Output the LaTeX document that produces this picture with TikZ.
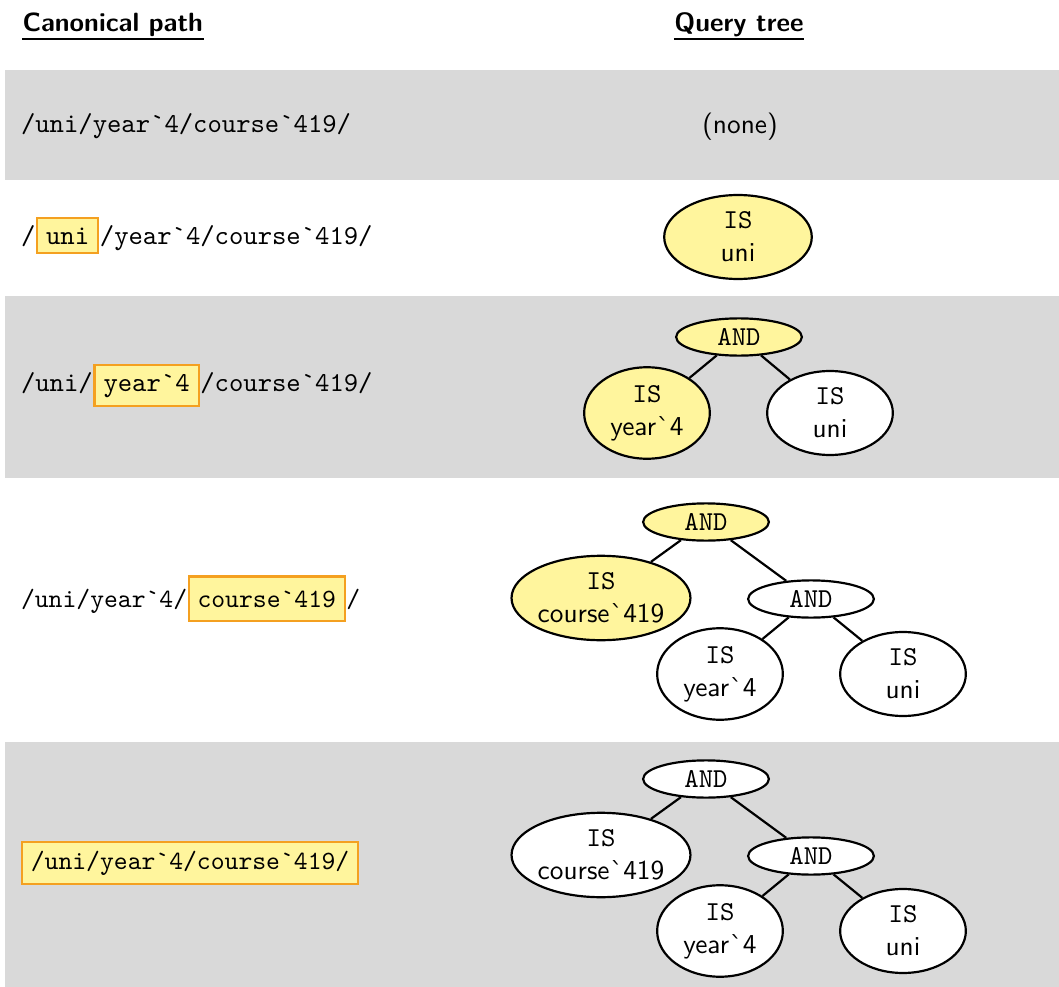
\documentclass[tikz,border=0pt]{standalone}
\usepackage{fontspec}
\usepackage{tikz}
\usetikzlibrary{shapes.geometric,positioning}
\definecolor{Band}{HTML}{D9D9D9}
\definecolor{Mark}{HTML}{FFF59D}
\definecolor{MarkEdge}{HTML}{F4A020}
\newcommand{\bq}{\textasciigrave}

\begin{document}
\begin{tikzpicture}[x=0.3659pt,y=-0.3659pt,
    band/.style={fill=Band},
    head/.style={font=\sffamily\bfseries,inner sep=0pt,scale=0.965},
    headrule/.style={line width=0.6pt},
    pathtxt/.style={font=\ttfamily,inner sep=0pt,anchor=base west},
    markbox/.style={pathtxt,fill=Mark,draw=MarkEdge,line width=0.8pt,inner sep=.3333em},
    snug/.style={scale=0.965},
    opnode/.style={ellipse,draw,line width=0.8pt,fill=white,font=\ttfamily,
                   minimum width=46pt,inner sep=1.7pt},
    isnode/.style={opnode,font=\sffamily,align=center,inner xsep=0pt},
    hit/.style={fill=Mark},
    link/.style={line width=0.8pt}]
  \useasboundingbox (0,0) rectangle (1059,987);

  % shaded rows
  \fill[band] (5,70) rectangle (1059,180);
  \fill[band] (5,296) rectangle (1059,478);
  \fill[band] (5,742) rectangle (1059,987);

  % column heads
  \node[head,anchor=base west] (hpath) at (22,31) {Canonical path};
  \node[head,anchor=base] (htree) at (739,31) {Query tree};
  \draw[headrule] ([yshift=-0.8pt]hpath.south west) -- ([yshift=-0.8pt]hpath.south east);
  \draw[headrule] ([yshift=-0.8pt]htree.south west) -- ([yshift=-0.8pt]htree.south east);

  % row 1
  \node[pathtxt] (p1) at (20.5,133) {/uni/year\bq 4/course\bq 419/};
  \node[font=\sffamily] (none) at (740,127) {(none)};

  % row 2
  \node[pathtxt] (p2a) at (20.5,244) {/};
  \node[markbox] (p2b) at (p2a.base east) {uni};
  \node[pathtxt] (p2c) at (p2b.base east) {/year\bq 4/course\bq 419/};
  \node[isnode,hit,minimum width=54pt] (q2) at (738,237) {{\ttfamily IS}\\uni};

  % row 3
  \node[pathtxt] (p3a) at (20.5,391) {/uni/};
  \node[markbox] (p3b) at (p3a.base east) {year\bq 4};
  \node[pathtxt] (p3c) at (p3b.base east) {/course\bq 419/};
  \node[opnode,hit] (and3) at (739,337) {AND};
  \node[isnode,hit] (yr3) at (647,413) {{\ttfamily IS}\\year\bq 4};
  \node[isnode] (uni3) at (830,413) {{\ttfamily IS}\\uni};
  \draw[link] (and3) -- (yr3);
  \draw[link] (and3) -- (uni3);

  % row 4
  \node[pathtxt,snug] (p4a) at (20.5,607) {/uni/year\bq 4/};
  \node[markbox,snug,minimum height=17pt] (p4b) at (p4a.base east) {course\bq 419};
  \node[pathtxt,snug] (p4c) at (p4b.base east) {/};
  \node[opnode,hit] (and4) at (706,522) {AND};
  \node[isnode,hit] (crs4) at (601,598) {{\ttfamily IS}\\course\bq 419};
  \node[opnode] (sub4) at (811,599) {AND};
  \node[isnode] (yr4) at (720,674) {{\ttfamily IS}\\year\bq 4};
  \node[isnode] (uni4) at (903,674) {{\ttfamily IS}\\uni};
  \draw[link] (and4) -- (crs4);
  \draw[link] (and4) -- (sub4);
  \draw[link] (sub4) -- (yr4);
  \draw[link] (sub4) -- (uni4);

  % row 5
  \node[markbox,snug] (p5) at (21,869) {/uni/year\bq 4/course\bq 419/};
  \node[opnode] (and5) at (706,779) {AND};
  \node[isnode] (crs5) at (601,855) {{\ttfamily IS}\\course\bq 419};
  \node[opnode] (sub5) at (811,856) {AND};
  \node[isnode] (yr5) at (720,931) {{\ttfamily IS}\\year\bq 4};
  \node[isnode] (uni5) at (903,931) {{\ttfamily IS}\\uni};
  \draw[link] (and5) -- (crs5);
  \draw[link] (and5) -- (sub5);
  \draw[link] (sub5) -- (yr5);
  \draw[link] (sub5) -- (uni5);
\end{tikzpicture}
\end{document}
